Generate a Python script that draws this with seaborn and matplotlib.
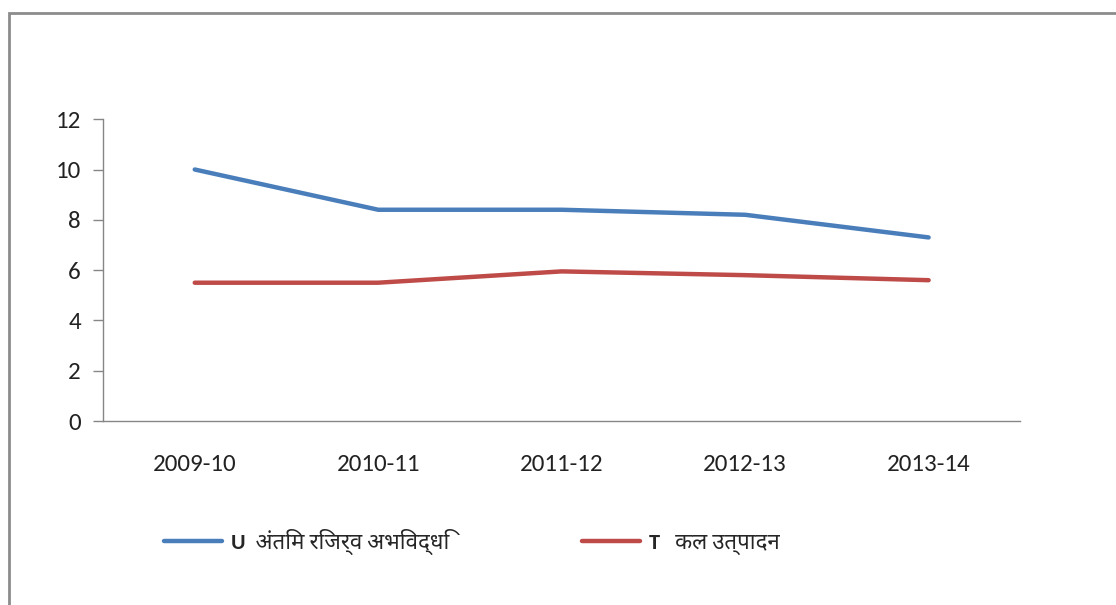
import matplotlib
matplotlib.use("Agg")
import matplotlib.pyplot as plt
from matplotlib import font_manager
from matplotlib.patches import Rectangle
from matplotlib.ticker import FixedLocator
import seaborn as sns
import pandas as pd

years = ["2009-10", "2010-11", "2011-12", "2012-13", "2013-14"]
reserve_growth = [10.0, 8.4, 8.4, 8.2, 7.3]
total_production = [5.5, 5.5, 5.95, 5.8, 5.6]
series_names = ["U  अंतिम रिजर्व अभिवद्धि", "T   कल उत्पादन"]
y_ticks = [0, 2, 4, 6, 8, 10, 12]


def first_installed(names, default):
    have = {f.name for f in font_manager.fontManager.ttflist}
    for n in names:
        if n in have:
            return n
    return default


latin_font = first_installed(["Carlito", "Lato"], "DejaVu Sans")
deva_font = first_installed(["Noto Sans Devanagari", "Hind", "Mukta", "Yantramanav", "Poppins"],
                            "DejaVu Sans")

sns.set_theme(style="white")
plt.rcParams['font.family'] = [latin_font, deva_font, 'DejaVu Sans']

df = pd.DataFrame({
    "year": years * 2,
    "value": reserve_growth + total_production,
    "series": [series_names[0]] * len(years) + [series_names[1]] * len(years),
})
df["x"] = list(range(len(years))) * 2

fig = plt.figure(figsize=(11.16, 6.05), dpi=100)
ax = fig.add_axes([0.0923, 0.304, 0.822, 0.499])

sns.lineplot(data=df, x="x", y="value", hue="series",
             palette=["#4A7EBB", "#BE4B48"], linewidth=3.2, ax=ax, legend=False)

ax.set_xlim(-0.5, len(years) - 0.5)
ax.set_ylim(0, 12)
ax.set_yticks(y_ticks)
ax.set_xticks(range(len(years)))
ax.set_xticklabels(years)
ax.xaxis.set_minor_locator(FixedLocator([i - 0.5 for i in range(len(years) + 1)]))
ax.tick_params(axis="x", which="major", length=0, pad=24, labelsize=18, colors="#222222")
ax.tick_params(axis="x", which="minor", length=7, width=1, color="#868686", direction="out")
ax.tick_params(axis="y", length=7, width=1, color="#868686", direction="out", pad=9,
               labelsize=18, labelcolor="#222222", left=True)
ax.set_xlabel("")
ax.set_ylabel("")
for side in ["top", "right"]:
    ax.spines[side].set_visible(False)
for side in ["left", "bottom"]:
    ax.spines[side].set_color("#868686")
    ax.spines[side].set_linewidth(1)

# legend
handles = [plt.Line2D([], [], color=c, linewidth=3.2) for c in ["#4A7EBB", "#BE4B48"]]
fig.legend(handles, series_names, loc="center left", bbox_to_anchor=(0.129, 0.105),
           ncol=2, frameon=False, handlelength=2.6, handletextpad=0.4, columnspacing=6.0,
           prop={"weight": "bold", "size": 16, "family": [latin_font, deva_font, 'DejaVu Sans']})

# outer frame (partially cropped)
fig.patches.append(Rectangle((9 / 1116, -0.1), 1.2, (605 - 13) / 605 + 0.1,
                             transform=fig.transFigure, fill=False,
                             edgecolor="#8C8C8C", linewidth=2))

fig.savefig("out.png", dpi=100)
